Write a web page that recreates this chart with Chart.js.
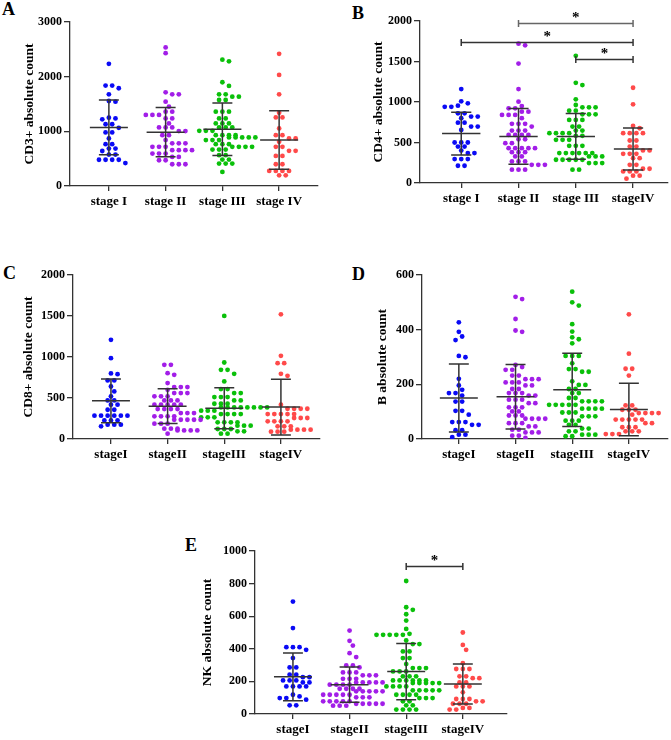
<!DOCTYPE html>
<html>
<head>
<meta charset="utf-8">
<script src="https://cdn.jsdelivr.net/npm/chart.js@4.4.0/dist/chart.umd.min.js"></script>
<style>
  body { margin: 0; background: #fff; }
  #wrap { position: relative; width: 671px; height: 740px; }
  canvas { position: absolute; }
  .tag { position: absolute; font: bold 18px 'Liberation Serif', serif; line-height: 18px; color: #000; }
</style>
</head>
<body>
<div id="wrap">
  <div class="tag" style="left:2px;top:0px">A</div>
  <div class="tag" style="left:352px;top:4px">B</div>
  <div class="tag" style="left:3px;top:264px">C</div>
  <div class="tag" style="left:352px;top:265px">D</div>
  <div class="tag" style="left:185px;top:536px">E</div>
  <canvas id="cA" width="335" height="225" style="left:0px;top:0px"></canvas>
  <canvas id="cB" width="336" height="225" style="left:335px;top:0px"></canvas>
  <canvas id="cC" width="335" height="240" style="left:0px;top:230px"></canvas>
  <canvas id="cD" width="336" height="240" style="left:335px;top:230px"></canvas>
  <canvas id="cE" width="360" height="240" style="left:160px;top:500px"></canvas>
</div>
<script>
// tick labels
const labelsA = ['stage I', 'stage II', 'stage III', 'stage IV'];
const labelsB = ['stage I', 'stage II', 'stage III', 'stageIV'];
const labelsCDE = ['stageI', 'stageII', 'stageIII', 'stageIV'];

// CD3+ absolute count (A)
const cd3I = [2235, 1837, 1837, 1788, 1677, 1555, 1543, 1249, 1237, 1220, 1130, 1130, 1065, 980, 980, 870, 765, 765, 685, 685, 640, 575, 575, 480, 480, 480, 480, 420];
const cd3II = [2535, 2430, 1714, 1677, 1677, 1543, 1450, 1360, 1360, 1300, 1300, 1300, 1237, 1237, 1145, 1071, 1071, 1071, 1004, 1004, 930, 930, 840, 780, 780, 780, 716, 716, 716, 655, 655, 655, 655, 594, 594, 594, 532, 532, 471, 471, 398, 398, 398];
const cd3III = [2310, 2280, 1898, 1830, 1677, 1677, 1634, 1634, 1573, 1573, 1360, 1360, 1360, 1237, 1237, 1145, 1145, 1145, 1071, 1071, 1071, 1010, 1010, 1010, 930, 930, 930, 930, 888, 888, 888, 888, 888, 840, 840, 840, 765, 765, 765, 716, 716, 716, 716, 667, 667, 667, 563, 563, 484, 484, 410, 410, 410, 257];
const cd3IV = [2418, 2032, 1677, 1340, 1255, 1255, 1053, 930, 930, 870, 870, 808, 716, 716, 643, 643, 551, 551, 398, 398, 275, 275, 275, 275, 196, 196];
const cd3Mean = [1071, 985, 1040, 840];
const cd3Sd = [500, 452, 480, 535];

// CD4+ absolute count (B)
const cd4I = [1160, 1008, 984, 955, 940, 940, 860, 860, 820, 820, 800, 745, 745, 697, 697, 655, 500, 500, 500, 450, 450, 400, 370, 370, 295, 295, 295, 213, 213];
const cd4II = [1720, 1700, 1475, 1160, 1004, 950, 922, 922, 880, 880, 840, 840, 840, 800, 730, 730, 730, 697, 647, 647, 647, 594, 594, 594, 594, 540, 540, 492, 492, 430, 430, 430, 430, 430, 380, 380, 380, 328, 328, 266, 266, 266, 225, 225, 225, 164, 164, 164];
const cd4III = [1570, 1237, 1209, 1033, 963, 934, 934, 934, 893, 893, 848, 848, 848, 779, 779, 779, 697, 697, 647, 647, 615, 615, 615, 615, 582, 582, 533, 533, 533, 459, 459, 459, 369, 369, 369, 369, 369, 369, 328, 328, 328, 287, 287, 287, 287, 287, 246, 246, 246, 164, 164];
const cd4IV = [1176, 971, 705, 676, 615, 615, 615, 615, 525, 525, 450, 450, 402, 402, 360, 360, 360, 307, 307, 225, 225, 176, 176, 143, 143, 143, 90, 90, 53];
const cd4Mean = [610, 575, 575, 420];
const cd4Sd = [265, 345, 282, 260];

// CD8+ absolute count (C)
const cd8I = [1209, 986, 800, 790, 714, 714, 640, 580, 520, 470, 470, 418, 418, 357, 357, 284, 284, 284, 284, 284, 284, 227, 227, 227, 175, 175, 175, 154];
const cd8II = [905, 905, 803, 783, 682, 633, 633, 633, 600, 560, 560, 560, 520, 520, 520, 470, 470, 470, 418, 418, 418, 418, 418, 365, 365, 365, 365, 316, 316, 316, 276, 276, 276, 276, 235, 235, 235, 235, 235, 187, 187, 187, 126, 126, 126, 105, 105, 105, 105, 65];
const cd8III = [1501, 933, 844, 844, 795, 702, 609, 609, 560, 560, 511, 511, 511, 470, 470, 430, 430, 430, 385, 385, 385, 385, 385, 385, 385, 385, 345, 345, 345, 304, 304, 304, 304, 264, 264, 264, 203, 203, 203, 203, 162, 162, 162, 122, 122, 122, 93, 93, 65, 65];
const cd8IV = [1521, 1014, 925, 925, 795, 771, 418, 369, 369, 369, 369, 304, 304, 304, 304, 304, 256, 256, 256, 215, 215, 215, 215, 154, 154, 154, 114, 114, 114, 114, 89, 89, 89];
const cd8Mean = [465, 400, 375, 390];
const cd8Sd = [268, 212, 250, 340];

// B absolute count (D)
const bI = [427, 392, 375, 362, 304, 299, 220, 196, 180, 168, 168, 159, 137, 137, 103, 103, 89, 62, 62, 62, 52, 52, 32, 32, 16, 16, 7];
const bII = [520, 512, 439, 397, 392, 271, 263, 253, 253, 232, 232, 219, 219, 219, 207, 207, 207, 196, 196, 183, 183, 168, 168, 168, 159, 159, 144, 144, 144, 131, 131, 116, 116, 116, 101, 101, 86, 86, 86, 74, 74, 74, 74, 58, 58, 58, 46, 46, 34, 34, 24, 24, 24, 12, 12, 4];
const bIII = [539, 500, 488, 420, 393, 372, 365, 350, 304, 304, 304, 277, 256, 256, 246, 246, 211, 198, 198, 183, 183, 168, 168, 150, 150, 138, 138, 138, 138, 125, 125, 125, 125, 125, 111, 111, 111, 111, 97, 97, 97, 83, 83, 83, 67, 67, 67, 52, 52, 38, 38, 28, 28, 16, 16, 16, 10, 10];
const bIV = [456, 312, 257, 257, 232, 123, 123, 107, 107, 107, 95, 95, 95, 95, 89, 71, 71, 71, 71, 71, 58, 58, 43, 43, 43, 28, 28, 28, 18, 18, 18];
const bMean = [150, 155, 180, 108];
const bSd = [124, 118, 134, 96];

// NK absolute count (E)
const nkI = [690, 527, 410, 410, 410, 394, 343, 286, 286, 241, 241, 226, 226, 206, 206, 206, 194, 194, 169, 169, 169, 169, 118, 108, 98, 98, 88, 53, 53];
const nkII = [512, 449, 420, 373, 349, 298, 298, 286, 255, 255, 255, 237, 237, 237, 216, 216, 216, 194, 194, 194, 194, 194, 180, 180, 180, 180, 155, 155, 155, 155, 139, 139, 139, 139, 139, 118, 118, 118, 118, 118, 102, 102, 102, 78, 78, 78, 78, 78, 63, 63, 63, 63, 63, 51, 51, 51];
const nkIII = [816, 655, 639, 612, 573, 522, 492, 486, 486, 486, 486, 486, 451, 429, 429, 384, 384, 343, 343, 306, 282, 282, 282, 261, 261, 261, 231, 231, 231, 206, 206, 206, 206, 206, 206, 190, 190, 190, 190, 190, 169, 169, 169, 169, 145, 145, 145, 145, 145, 118, 118, 118, 118, 98, 98, 98, 78, 78, 53, 53, 27, 27, 27, 27];
const nkIV = [500, 424, 394, 312, 276, 276, 276, 231, 231, 220, 220, 194, 194, 169, 169, 169, 133, 92, 92, 92, 78, 78, 63, 63, 63, 37, 37, 27, 27];
const nkMean = [228, 180, 260, 184];
const nkSd = [146, 108, 172, 122];

const colors = ['#0a0af5', '#a21ee8', '#0ac00a', '#ff4a4a'];
const FONT = "'Liberation Serif', 'Times New Roman', serif";

const panels = [
  { id: 'cA', box: [0, 0, 335, 225], plot: [70, 22, 318, 186], xr: [0.315, 4.685], yMax: 3000, step: 1000,
    title: 'CD3+ absolute count', titlePad: 21, labels: labelsA,
    groups: [cd3I, cd3II, cd3III, cd3IV], mean: cd3Mean, sd: cd3Sd, brackets: [] },
  { id: 'cB', box: [335, 0, 336, 225], plot: [420, 21, 668, 183], xr: [0.28, 4.61], yMax: 2000, step: 500,
    title: 'CD4+ absolute count', titlePad: 35, labels: labelsB,
    groups: [cd4I, cd4II, cd4III, cd4IV], mean: cd4Mean, sd: cd4Sd,
    brackets: [{ a: 2, b: 4, y: 1975, c: '#666' }, { a: 1, b: 4, y: 1746, c: '#333' }, { a: 3, b: 4, y: 1537, c: '#333' }] },
  { id: 'cC', box: [0, 230, 335, 240], plot: [73, 275, 320, 439], xr: [0.33, 4.69], yMax: 2000, step: 500,
    title: 'CD8+ absolute count', titlePad: 20, labels: labelsCDE,
    groups: [cd8I, cd8II, cd8III, cd8IV], mean: cd8Mean, sd: cd8Sd, brackets: [] },
  { id: 'cD', box: [335, 230, 336, 240], plot: [422, 275, 668, 439], xr: [0.35, 4.69], yMax: 600, step: 200,
    title: 'B absolute count', titlePad: 39, labels: labelsCDE,
    groups: [bI, bII, bIII, bIV], mean: bMean, sd: bSd, brackets: [] },
  { id: 'cE', box: [160, 500, 360, 240], plot: [255, 551, 507, 714], xr: [0.33, 4.78], yMax: 1000, step: 200,
    title: 'NK absolute count', titlePad: 39, labels: labelsCDE,
    groups: [nkI, nkII, nkIII, nkIV], mean: nkMean, sd: nkSd,
    brackets: [{ a: 3, b: 4, y: 908, c: '#333' }] }
];

// spread equal/near values sideways (rows centred on the category)
function swarm(values, pxX, pxY) {
  const step = 6.6, d = 5.2;
  const counts = new Map();
  values.forEach(v => counts.set(v, (counts.get(v) || 0) + 1));
  const rows = [...counts.keys()].sort((a, b) => b - a);
  const placed = [];
  const out = [];
  rows.forEach(v => {
    const n = counts.get(v);
    const py = v * pxY;
    for (let k = 0; k < 12; k++) {
      const shift = (k % 2 ? 1 : -1) * Math.ceil(k / 2) * step / 2;
      const xs = [];
      for (let j = 0; j < n; j++) xs.push((j - (n - 1) / 2) * step + shift);
      const hit = xs.some(px => placed.some(p => Math.hypot(p.px - px, p.py - py) < d));
      if (!hit || k === 11) {
        xs.forEach(px => { placed.push({ px, py }); out.push({ dx: px / pxX, y: v }); });
        break;
      }
    }
  });
  return out;
}

function makePanel(p) {
  const [cx, cy, cw, ch] = p.box;
  const [pl, pt, pr, pb] = p.plot;
  const pxX = (pr - pl) / (p.xr[1] - p.xr[0]);
  const pxY = (pb - pt) / p.yMax;

  const datasets = p.groups.map((vals, i) => ({
    data: swarm(vals, pxX, pxY).map(o => ({ x: i + 1 + o.dx, y: o.y })),
    backgroundColor: colors[i],
    borderWidth: 0,
    pointRadius: 2.4,
    pointHoverRadius: 2.4
  }));

  const markers = {
    id: 'markers',
    afterDatasetsDraw(chart) {
      const ctx = chart.ctx;
      const xs = chart.scales.x, ys = chart.scales.y;
      ctx.save();
      ctx.strokeStyle = '#333';
      ctx.lineWidth = 1.5;
      p.mean.forEach((m, i) => {
        const x = i + 1;
        const hi = ys.getPixelForValue(m + p.sd[i]);
        const lo = ys.getPixelForValue(m - p.sd[i]);
        const my = ys.getPixelForValue(m);
        ctx.beginPath();
        ctx.moveTo(xs.getPixelForValue(x), hi);
        ctx.lineTo(xs.getPixelForValue(x), lo);
        ctx.moveTo(xs.getPixelForValue(x - 0.176), hi);
        ctx.lineTo(xs.getPixelForValue(x + 0.176), hi);
        ctx.moveTo(xs.getPixelForValue(x - 0.176), lo);
        ctx.lineTo(xs.getPixelForValue(x + 0.176), lo);
        ctx.moveTo(xs.getPixelForValue(x - 0.335), my);
        ctx.lineTo(xs.getPixelForValue(x + 0.335), my);
        ctx.stroke();
      });
      p.brackets.forEach(b => {
        const x1 = xs.getPixelForValue(b.a), x2 = xs.getPixelForValue(b.b);
        const y = Math.round(ys.getPixelForValue(b.y)) + 0.5;
        ctx.strokeStyle = b.c;
        ctx.lineWidth = 1.5;
        ctx.beginPath();
        ctx.moveTo(x1, y); ctx.lineTo(x2, y);
        ctx.moveTo(x1, y - 3.5); ctx.lineTo(x1, y + 3.5);
        ctx.moveTo(x2, y - 3.5); ctx.lineTo(x2, y + 3.5);
        ctx.stroke();
        ctx.fillStyle = '#000';
        ctx.font = 'bold 15px ' + FONT;
        ctx.textAlign = 'center';
        ctx.textBaseline = 'alphabetic';
        ctx.fillText('*', (x1 + x2) / 2, y - 2);
      });
      ctx.restore();
    }
  };

  new Chart(document.getElementById(p.id), {
    type: 'scatter',
    data: { datasets },
    plugins: [markers],
    options: {
      responsive: false,
      animation: false,
      layout: { padding: { left: 0, top: pt - cy, right: cx + cw - pr, bottom: 0 } },
      plugins: { legend: { display: false }, tooltip: { enabled: false } },
      scales: {
        x: {
          type: 'linear',
          min: p.xr[0],
          max: p.xr[1],
          afterBuildTicks: s => { s.ticks = [1, 2, 3, 4].map(v => ({ value: v })); },
          afterFit: s => { s.height = cy + ch - pb; },
          grid: { drawOnChartArea: false, drawTicks: true, tickLength: 5, color: '#333', lineWidth: 1.3 },
          border: { display: true, color: '#333', width: 1.3 },
          ticks: {
            autoSkip: false, maxRotation: 0, padding: 3, color: '#000',
            font: { family: FONT, size: 13, weight: 'bold' },
            callback: (v, i) => p.labels[i]
          }
        },
        y: {
          min: 0,
          max: p.yMax,
          afterFit: s => { s.width = pl - cx; },
          grid: { drawOnChartArea: false, drawTicks: true, tickLength: 6, color: '#333', lineWidth: 1.3 },
          border: { display: true, color: '#333', width: 1.3 },
          ticks: {
            stepSize: p.step, padding: 2, color: '#000',
            font: { family: FONT, size: 12, weight: 'bold' },
            callback: v => String(v)
          },
          title: {
            display: true, text: p.title, color: '#000',
            font: { family: FONT, size: 13.5, weight: 'bold' },
            padding: { top: p.titlePad, bottom: 0 }
          }
        }
      }
    }
  });
}

panels.forEach(makePanel);
</script>
</body>
</html>
